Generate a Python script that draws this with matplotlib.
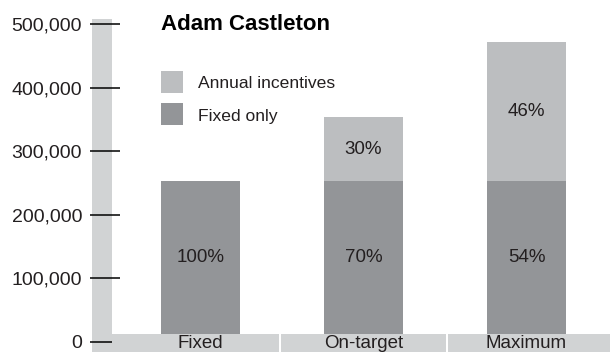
import matplotlib
matplotlib.use('Agg')
import matplotlib.pyplot as plt
from matplotlib.patches import Rectangle

plt.rcParams['font.family'] = ['Liberation Sans', 'DejaVu Sans']

categories = ['Fixed', 'On-target', 'Maximum']
fixed_only = [253000, 253000, 253000]
incentives = [0, 100000, 218000]
fixed_pct = ['100%', '70%', '54%']
incent_pct = ['', '30%', '46%']
yticks = [0, 100000, 200000, 300000, 400000, 500000]
legend_labels = ['Annual incentives', 'Fixed only']

dark = '#939598'
light = '#bcbec0'
band = '#d1d3d4'
txt = '#231f20'

W, H = 610, 352
fig = plt.figure(figsize=(W / 100, H / 100), dpi=100)

# pixel helpers: 163 px per category, 63.6 px per 100k, zero at y=342
px_x = 163.0
px_y = 63.6 / 100000
x0_px, y0_px = 200.5, 342
ax_left = 104.5
ax = fig.add_axes([ax_left / W, 0, 1 - ax_left / W, 1])
ax.set_xlim((ax_left - x0_px) / px_x, (W - x0_px) / px_x)
ax.set_ylim(-(H - y0_px) / px_y, y0_px / px_y)

def dx(p):
    return (p - x0_px) / px_x

def dy(p):
    return (y0_px - p) / px_y

x = list(range(len(categories)))
bw = 79 / px_x
b1 = ax.bar(x, fixed_only, width=bw, color=dark, zorder=2)
b2 = ax.bar(x, incentives, width=bw, bottom=fixed_only, color=light, zorder=2)

band_top = dy(334)
for i in x:
    ax.text(i, (fixed_only[i] + band_top) / 2, fixed_pct[i], ha='center',
            va='center', fontsize=13.5, color=txt, zorder=4)
    if incent_pct[i]:
        ax.text(i, fixed_only[i] + incentives[i] / 2, incent_pct[i], ha='center',
                va='center', fontsize=13.5, color=txt, zorder=4)

# grey axis band on the left
ymin = ax.get_ylim()[0]
ax.add_patch(Rectangle((dx(92), ymin), dx(112) - dx(92), dy(19) - ymin,
                       color=band, clip_on=False, zorder=1, lw=0))
# bottom category band
edges = [dx(112), dx(278.5), dx(280.5), dx(446), dx(448), dx(W + 5)]
for k in range(3):
    l, r = edges[2 * k], edges[2 * k + 1]
    ax.add_patch(Rectangle((l, ymin), r - l, band_top - ymin, color=band,
                           zorder=3, lw=0))
    ax.text(x[k], dy(335.5), categories[k], ha='center', va='top',
            fontsize=13.5, color=txt, zorder=4)

for s in ax.spines.values():
    s.set_visible(False)
ax.set_xticks([])
ax.set_yticks(yticks)
ax.set_yticklabels([f'{v:,}' for v in yticks])
ax.tick_params(axis='y', direction='inout', length=22.3, width=1.1,
               color='black', pad=5, labelsize=14, labelcolor=txt)
for t in ax.yaxis.get_major_ticks():
    t.tick1line.set_zorder(5)

fig.text(161 / W, 1 - 24 / H, 'Adam Castleton', fontsize=16, fontweight='bold',
         ha='left', va='center', color='black')

# legend swatches
for k, (lab, col) in enumerate(zip(legend_labels, [light, dark])):
    top = 71 + 32 * k
    fig.patches.append(Rectangle((161 / W, 1 - (top + 22) / H), 22 / W, 22 / H,
                                 transform=fig.transFigure, color=col, lw=0))
    fig.text(198 / W, 1 - (top + 17.5) / H, lab, fontsize=12.6, ha='left',
             va='baseline', color=txt)

fig.savefig('out.png', dpi=100)
